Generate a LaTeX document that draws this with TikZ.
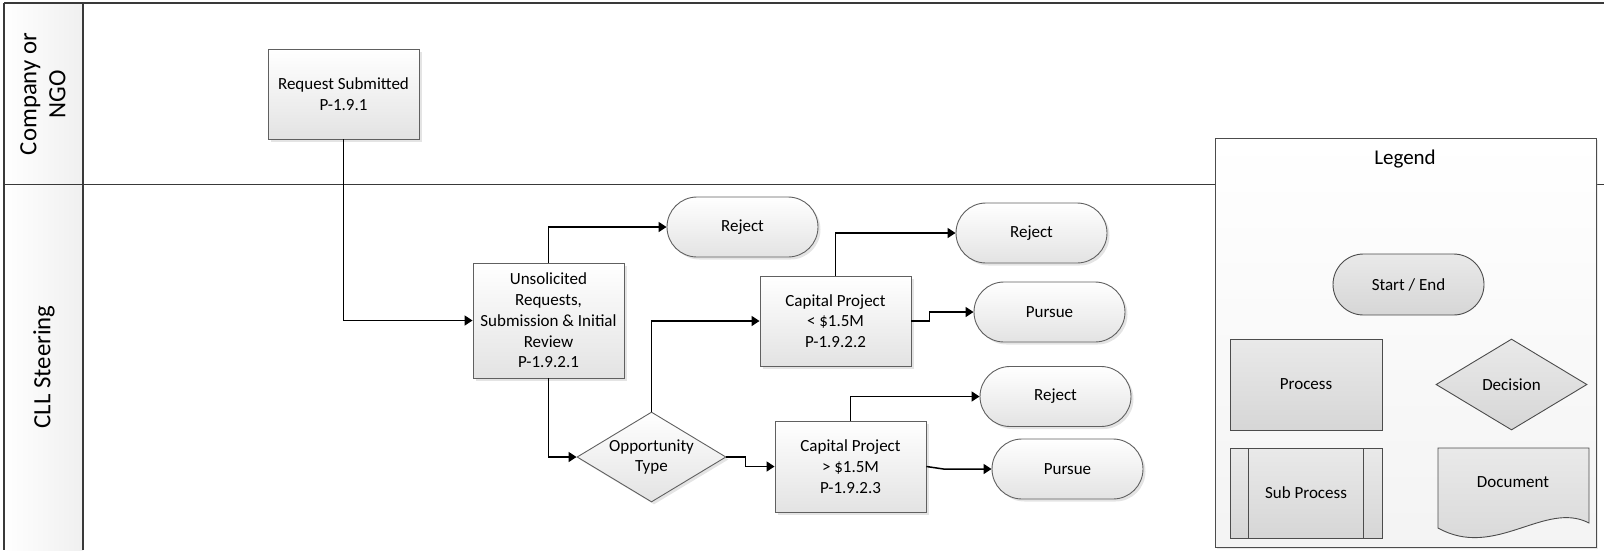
\documentclass[tikz,border=0pt]{standalone}
\usepackage{fontspec}
\setmainfont{Carlito}
\usetikzlibrary{arrows.meta,shapes.geometric,shapes.misc,shadows}
\begin{document}
\begin{tikzpicture}[x=1pt,y=-1pt,
  txt/.style={font=\fontsize{17}{20.7}\selectfont, align=center, inner sep=0pt},
  base/.style={txt, draw=gray!75!black, line width=0.9pt, top color=white, bottom color=gray!22,
    drop shadow={shadow xshift=2.5pt, shadow yshift=-2.5pt, fill=gray!70, opacity=0.3}},
  proc/.style={base, rectangle, minimum width=151pt, minimum height=90pt},
  term/.style={base, rounded rectangle, minimum width=151pt, minimum height=60pt},
  dec/.style={base, diamond, minimum width=149pt, minimum height=90pt},
  conn/.style={line width=1.5pt, -{Triangle[length=8pt,width=10pt]}},
  laneline/.style={line width=1.6pt, draw=gray!45!black},
  lanelabel/.style={font=\fontsize{24.8}{29}\selectfont, align=center, rotate=90, inner sep=0pt},
  leg/.style={txt, draw=gray!60!black, line width=0.9pt, top color=gray!17, bottom color=gray!32},
]
\useasboundingbox (0,0) rectangle (1604,550);

% swimlanes
\shade[left color=white, right color=gray!12] (4,3) rectangle (83,550);
\draw[laneline] (4,3) -- (1604,3);
\draw[laneline] (4,3) -- (4,550);
\draw[laneline] (83,3) -- (83,550);
\draw[laneline] (4,184.5) -- (1604,184.5);
\node[lanelabel] (l1) at (43,94) {Company or\\NGO};
\node[lanelabel] (l2) at (44,367) {CLL Steering};

% legend
\node[draw=gray!60!black, line width=0.9pt, top color=white, bottom color=gray!9,
  minimum width=381pt, minimum height=409pt, inner sep=0pt,
  drop shadow={shadow xshift=2pt, shadow yshift=-2pt, fill=gray!70, opacity=0.25}] (legbox) at (1405.5,342.5) {};
\node[font=\fontsize{21}{25}\selectfont] (legtitle) at (1405,159) {Legend};
\node[leg, rounded rectangle, minimum width=151pt, minimum height=61pt] (lse) at (1408.5,284.5) {Start / End};
\node[leg, rectangle, minimum width=152pt, minimum height=91pt] (lpr) at (1306,384.5) {Process};
\node[leg, diamond, minimum width=151pt, minimum height=91pt] (ldec) at (1511.5,384.5) {};
\node[txt] (ldect) at (ldec.center) {Decision};
\node[leg, rectangle, minimum width=152pt, minimum height=90pt] (lsub) at (1306,493) {Sub Process};
\draw[draw=gray!60!black, line width=0.9pt] (1248,448) -- (1248,538) (1363,448) -- (1363,538);
\path[leg, shading angle=0] (1438,448) -- (1589,448) -- (1589,523)
  .. controls (1545,500) and (1495,560) .. (1438,528) -- cycle;
\node[txt] (ldoc) at (1513,482) {Document};

% process nodes
\node[proc] (req) at (343.5,94) {Request Submitted\\P-1.9.1};
\node[proc, minimum height=115pt] (unsol) at (548.5,320.5) {Unsolicited\\Requests,\\Submission \& Initial\\Review\\P-1.9.2.1};
\node[term] (rej1) at (742.5,227) {Reject};
\node[proc] (cap1) at (835.5,321) {Capital Project\\< \$1.5M\\P-1.9.2.2};
\node[dec] (opp) at (651.5,457) {};
\node[txt] (oppt) at (opp.center) {Opportunity\\Type};
\node[proc, minimum height=91pt] (cap2) at (850.5,466.5) {Capital Project\\> \$1.5M\\P-1.9.2.3};
\node[term] (rej2) at (1031.5,233) {Reject};
\node[term] (pur1) at (1049.5,312) {Pursue};
\node[term] (rej3) at (1055.5,396.5) {Reject};
\node[term] (pur2) at (1067.5,469) {Pursue};

% connectors
\draw[conn] (req.south) |- (unsol.west);
\draw[conn] (unsol.north) |- (rej1.west);
\draw[conn] (unsol.south) |- (opp.west);
\draw[conn] (opp.north) |- (cap1.west);
\draw[conn] (opp.east) -- ++(19,0) |- (cap2.west);
\draw[conn] (cap1.north) |- (rej2.west);
\draw[conn] (cap1.east) -- ++(18,0) |- (pur1.west);
\draw[conn] (cap2.north) |- (rej3.west);
\draw[conn] (cap2.east) -- ++(17,2.5) -- (pur2.west);
\end{tikzpicture}
\end{document}
